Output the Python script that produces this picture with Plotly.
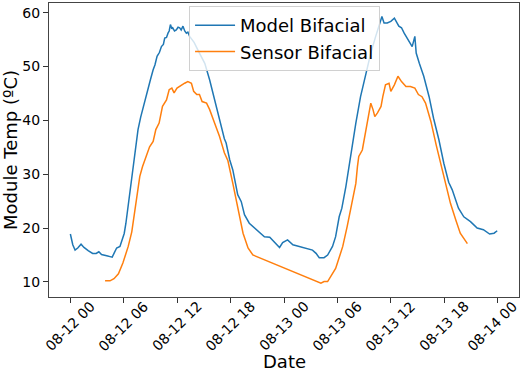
import pandas as pd
import plotly.graph_objects as go

base = pd.Timestamp("2021-08-12 00:00")

model_hours = [0.0, 0.27, 0.53, 0.83, 1.2, 1.53, 2.0, 2.5, 2.9, 3.2, 3.5, 3.9, 4.2, 4.45, 4.7,
               4.93, 5.2, 5.57, 5.83, 6.05, 6.24, 6.45, 6.87, 7.25, 7.6, 7.9, 8.2, 8.45, 8.73,
               9.0, 9.3, 9.5, 9.74, 10.0, 10.23, 10.45, 10.6, 10.8, 10.97, 11.1, 11.24, 11.4,
               11.5, 11.7, 11.9, 12.1, 12.28, 12.45, 12.65, 12.85, 13.03, 13.2, 13.4, 13.9,
               14.5, 15.1, 15.65, 16.2, 16.76, 17.3, 17.5, 17.9, 18.25, 18.8, 19.2, 19.56,
               20.1, 20.7, 21.2, 21.8, 22.4, 22.9, 23.5, 23.85, 24.4, 25.0, 25.5, 26.1, 26.65,
               27.2, 27.6, 27.96, 28.5, 28.9, 29.45, 29.8, 30.2, 30.5, 30.95, 31.5, 32.07,
               32.6, 33.2, 33.75, 34.3, 34.7, 35.0, 35.24, 35.6, 36.0, 36.4, 36.9, 37.2, 37.5,
               38.0, 38.4, 38.7, 38.85, 39.2, 39.7, 40.3, 40.8, 41.4, 41.96, 42.5, 42.9, 43.6,
               44.2, 44.95, 45.7, 46.4, 47.1, 47.6, 47.95]
model_temp = [18.9, 16.9, 15.9, 16.3, 17.0, 16.4, 15.8, 15.3, 15.3, 15.6, 15.1, 15.0, 14.8, 14.7, 14.6,
              15.4, 16.3, 16.6, 17.8, 19.0, 20.9, 23.7, 28.6, 33.5, 38.3, 40.6, 42.6, 44.2, 46.3,
              47.6, 49.4, 50.3, 51.9, 52.6, 53.7, 54.1, 55.3, 55.4, 56.2, 56.6, 57.8, 57.0,
              57.2, 56.6, 56.8, 57.3, 57.2, 56.8, 57.5, 56.6, 56.2, 56.4, 55.6, 54.5,
              52.5, 50.6, 47.5, 43.8, 40.1, 36.6, 35.8, 32.7, 30.8, 26.2, 24.9, 22.5,
              20.9, 20.0, 19.3, 18.4, 18.3, 17.5, 16.4, 17.3, 17.8, 16.9, 16.7, 16.4, 16.1,
              15.9, 15.3, 14.5, 14.5, 15.0, 16.6, 18.4, 22.1, 23.7, 27.7, 33.9, 39.5,
              44.4, 48.8, 52.5, 55.6, 57.5, 59.3, 58.1, 58.1, 58.4, 59.0, 57.5, 57.2, 56.2,
              54.7, 53.7, 55.6, 52.5, 50.6, 48.2, 44.4, 40.4, 36.4, 32.0, 28.5, 27.1, 23.7,
              22.1, 21.2, 20.0, 19.7, 18.9, 19.05, 19.5]

sensor_hours = [3.9, 4.45, 4.9, 5.4, 5.9, 6.5, 6.9, 7.25, 7.5, 7.8, 8.1, 8.37, 8.9, 9.3, 9.6,
                9.97, 10.35, 10.8, 11.1, 11.4, 11.65, 11.98, 12.5, 12.84, 13.2, 13.6, 13.85,
                14.2, 14.5, 14.8, 15.3, 15.65, 16.2, 16.76, 17.3, 17.7, 18.25, 18.5, 18.85,
                19.4, 19.96, 20.5, 28.15, 28.5, 28.9, 29.45, 29.8, 30.0, 30.6, 31.1, 31.5,
                31.7, 32.07, 32.25, 32.4, 32.8, 33.2, 33.5, 33.75, 34.0, 34.2, 34.5, 34.9,
                35.1, 35.4, 35.8, 36.0, 36.4, 36.8, 37.2, 37.7, 38.2, 38.7, 39.1, 39.5, 39.9,
                40.5, 41.1, 41.6, 41.96, 42.15, 42.7, 43.3, 43.8, 44.6]
sensor_temp = [10.2, 10.2, 10.6, 11.5, 13.5, 16.6, 19.3, 23.5, 25.5, 29.6, 31.4, 32.7, 35.1, 36.1, 38.3,
               39.5, 42.6, 43.8, 45.7, 46.0, 45.1, 46.0, 46.6, 46.9, 47.2, 46.9, 45.4,
               44.8, 44.8, 43.5, 43.2, 42.0, 39.5, 37.0, 34.0, 32.5, 28.3, 26.4, 23.4,
               19.05, 16.3, 15.0, 9.76, 10.06, 10.06, 11.6, 12.5, 13.5, 16.6, 20.3, 23.4,
               25.2, 28.3, 31.4, 33.3, 34.5, 38.3, 41.4, 43.2, 42.0, 40.7, 41.4, 42.6,
               44.4, 46.6, 46.9, 45.4, 46.6, 48.2, 47.2, 46.3, 46.3, 46.0, 44.8, 44.4, 43.2,
               39.8, 35.4, 32.1, 29.6, 28.3, 24.6, 21.5, 19.05, 17.1]

tick_hours = [0, 6, 12, 18, 24, 30, 36, 42, 48]


def to_time(hours):
    return base + pd.to_timedelta(pd.Series(hours), unit="h")


font_family = "DejaVu Sans"

fig = go.Figure()
fig.add_trace(go.Scatter(x=to_time(model_hours), y=model_temp, mode="lines",
                         name="Model Bifacial", line=dict(color="#1f77b4", width=1.5)))
fig.add_trace(go.Scatter(x=to_time(sensor_hours), y=sensor_temp, mode="lines",
                         name="Sensor Bifacial", line=dict(color="#ff7f0e", width=1.5)))

tick_times = list(to_time(tick_hours))
tick_labels = [t.strftime("%m-%d %H") for t in tick_times]

annotations = []
for i, (t, lab) in enumerate(zip(tick_times, tick_labels)):
    annotations.append(dict(text=lab, xref="x", yref="paper", x=t, y=-0.1003,
                            xanchor="center", yanchor="middle", textangle=-45,
                            xshift=-5 if i == len(tick_times) - 1 else 0,
                            showarrow=False, font=dict(size=14, family=font_family)))
annotations.append(dict(text="Date", xref="paper", yref="paper", x=0.5, y=-0.221,
                        xanchor="center", yanchor="middle", showarrow=False,
                        font=dict(size=18, family=font_family)))

fig.update_layout(
    width=520, height=371,
    margin=dict(l=49, r=1, t=3, b=74, autoexpand=False),
    paper_bgcolor="white", plot_bgcolor="white",
    font=dict(family=font_family, color="black", size=14),
    showlegend=True,
    legend=dict(x=0.298, y=0.99, xanchor="left", yanchor="top",
                bgcolor="rgba(255,255,255,0.8)", bordercolor="#d0d0d0", borderwidth=1,
                font=dict(size=18, family=font_family), itemwidth=40,
                tracegroupgap=0),
    xaxis=dict(
        range=[base + pd.Timedelta(hours=-2.4), base + pd.Timedelta(hours=50.4)],
        tickvals=tick_times,
        showticklabels=False,
        ticks="outside", ticklen=5, tickcolor="#333",
        showline=True, linecolor="#444", linewidth=1, mirror=True,
        showgrid=False, zeroline=False, automargin=False,
    ),
    yaxis=dict(
        range=[7.2, 61.8],
        tickvals=[10, 20, 30, 40, 50, 60],
        ticks="outside", ticklen=5, tickcolor="#333",
        showline=True, linecolor="#444", linewidth=1, mirror=True,
        showgrid=False, zeroline=False, automargin=False,
        tickfont=dict(size=14),
        title=dict(text="Module Temp (ºC)", font=dict(size=18), standoff=6),
    ),
    annotations=annotations,
)

fig.write_html("out.html")
